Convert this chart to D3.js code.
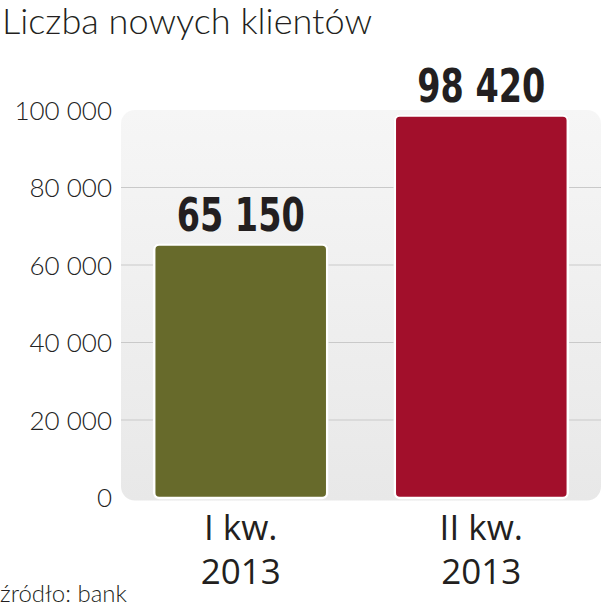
<!DOCTYPE html>
<html><head><meta charset="utf-8">
<script src="https://cdn.jsdelivr.net/npm/d3@7"></script>
<style>
body{margin:0;background:#fff;}
svg{display:block;}
</style></head>
<body>
<svg id="c" width="602" height="610"></svg>
<script>
const categories = ["I kw.|2013", "II kw.|2013"];
const values = [65150, 98420];
const valueLabels = ["65 150", "98 420"];
const tickValues = [0, 20000, 40000, 60000, 80000, 100000];
const colors = ["#676a2b", "#a20f2b"];
const title = "Liczba nowych klientów";
const source = "źródło: bank";

const svg = d3.select("#c");
const defs = svg.append("defs");
const grad = defs.append("linearGradient").attr("id","bg").attr("x1",0).attr("y1",0).attr("x2",0).attr("y2",1);
grad.append("stop").attr("offset","0%").attr("stop-color","#f6f6f6");
grad.append("stop").attr("offset","100%").attr("stop-color","#e8e8e8");

const y = d3.scaleLinear().domain([0,100000]).range([497.5,110]);
const x = d3.scaleBand().domain(categories).range([121,601]).paddingInner(0.285).paddingOuter(0.14);

const loc = d3.formatLocale({decimal:",", thousands:" ", grouping:[3], currency:["","zł"]});
const fmt = loc.format(",d");

// background panel
svg.append("rect").attr("x",121).attr("y",y(100000)).attr("width",480).attr("height",y(0)-y(100000)+3)
  .attr("rx",14).attr("fill","url(#bg)");

// gridlines
svg.append("g").selectAll("line").data(tickValues.filter(d=>d>0 && d<100000)).join("line")
  .attr("x1",121).attr("x2",601).attr("y1",d=>y(d)).attr("y2",d=>y(d))
  .attr("stroke","#c9c9c9").attr("stroke-width",1.2);

// y axis
const ax = svg.append("g").attr("transform","translate(121,0)")
  .call(d3.axisLeft(y).tickValues(tickValues).tickFormat(fmt).tickSize(0).tickPadding(9));
ax.select(".domain").remove();
ax.selectAll("text").attr("font-family","Lato").attr("font-weight",300).attr("font-size",26)
  .attr("fill","#222").attr("dy","0.36em");

// bars
const bars = svg.append("g").selectAll("g").data(values).join("g");
bars.append("rect")
  .attr("x",(d,i)=>x(categories[i])-1.5).attr("y",d=>y(d)-1.5)
  .attr("width",x.bandwidth()+3).attr("height",d=>y(0)-y(d)+3)
  .attr("rx",6).attr("fill","#b9bcbc");
bars.append("rect")
  .attr("x",(d,i)=>x(categories[i])-0.5).attr("y",d=>y(d)-0.5)
  .attr("width",x.bandwidth()+1).attr("height",d=>y(0)-y(d)+1)
  .attr("rx",5).attr("fill",(d,i)=>colors[i]).attr("stroke","#fff").attr("stroke-width",2.5);

// value labels
svg.append("g").selectAll("text").data(values).join("text")
  .attr("x",(d,i)=>x(categories[i])+x.bandwidth()/2).attr("y",d=>y(d)-14)
  .attr("text-anchor","middle").attr("font-family","Liberation Sans Narrow, DejaVu Sans Condensed, sans-serif")
  .attr("font-weight",700).attr("font-size",47).attr("fill","#231f20")
  .attr("textLength",128).attr("lengthAdjust","spacingAndGlyphs")
  .text((d,i)=>valueLabels[i]);

// x labels
const xl = svg.append("g").selectAll("text").data(categories).join("text")
  .attr("x",d=>x(d)+x.bandwidth()/2).attr("text-anchor","middle")
  .attr("font-family","Open Sans").attr("font-size",35).attr("fill","#231f20");
xl.append("tspan").attr("x",d=>x(d)+x.bandwidth()/2).attr("y",540).text(d=>d.split("|")[0]);
xl.append("tspan").attr("x",d=>x(d)+x.bandwidth()/2).attr("y",584).text(d=>d.split("|")[1]);

// title
svg.append("text").attr("x",2).attr("y",34).attr("font-family","Lato").attr("font-weight",300)
  .attr("font-size",35).attr("fill","#231f20").attr("textLength",370).attr("lengthAdjust","spacingAndGlyphs").text(title);

// source
svg.append("text").attr("x",0).attr("y",602).attr("font-family","Lato").attr("font-weight",300)
  .attr("font-size",24).attr("fill","#231f20").text(source);
</script>
</body></html>
